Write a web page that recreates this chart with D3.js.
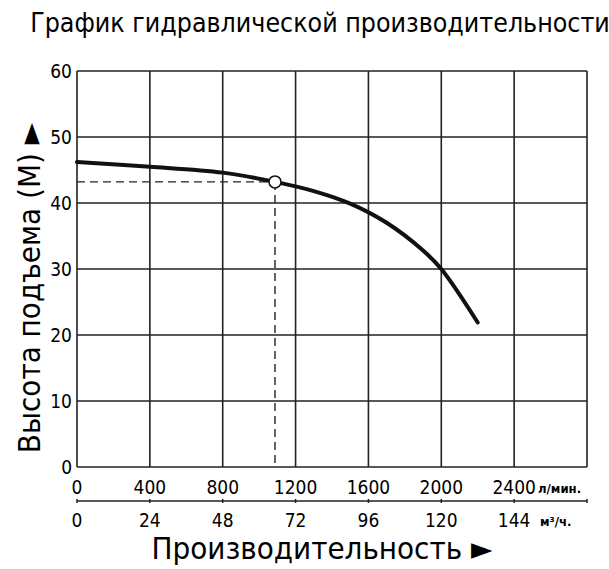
<!DOCTYPE html>
<html><head><meta charset="utf-8">
<script src="https://cdn.jsdelivr.net/npm/d3@7"></script>
<style>body{margin:0;background:#fff}text{font-family:"DejaVu Sans Condensed","Liberation Sans Narrow",sans-serif}</style>
</head><body>
<script>
const flowLpm = [0, 400, 800, 1087, 1300, 1500, 1700, 1900, 2000, 2200];
const headM   = [46.2, 45.5, 44.6, 43.2, 41.8, 39.9, 37.0, 32.8, 30.0, 21.9];
const opPoint = {q: 1087, h: 43.2};
const lpmTicks = [0, 400, 800, 1200, 1600, 2000, 2400];
const m3hTicks = [0, 24, 48, 72, 96, 120, 144];
const yTicks = [0, 10, 20, 30, 40, 50, 60];

const W = 609, H = 569, L = 77, R = 587, T = 71, B = 467;
const svg = d3.select("body").append("svg").attr("width", W).attr("height", H);
const x = d3.scaleLinear().domain([0, 2800]).range([L, R]);
const x2 = d3.scaleLinear().domain([0, 168]).range([L, R]);
const y = d3.scaleLinear().domain([0, 60]).range([B, T]);

const g = svg.append("g");
g.selectAll(".v").data(d3.range(0, 2801, 400)).join("line")
  .attr("x1", d => x(d)).attr("x2", d => x(d)).attr("y1", T).attr("y2", B)
  .attr("stroke", "#222").attr("stroke-width", 1.6);
g.selectAll(".h").data(yTicks).join("line")
  .attr("x1", L).attr("x2", R).attr("y1", d => y(d)).attr("y2", d => y(d))
  .attr("stroke", "#222").attr("stroke-width", 1.6);

g.selectAll(".yl").data(yTicks).join("text")
  .attr("x", L - 5).attr("y", d => y(d) + 7).attr("text-anchor", "end")
  .attr("font-size", 19).text(d => d);

g.selectAll(".xl").data(lpmTicks).join("text")
  .attr("x", d => x(d)).attr("y", 494).attr("text-anchor", "middle")
  .attr("font-size", 19).text(d => d);
svg.append("text").attr("x", 538).attr("y", 493).attr("font-size", 13).attr("font-weight", "bold")
  .attr("font-family", "Liberation Sans, sans-serif").text("л/мин.");

svg.append("line").attr("x1", L).attr("x2", R).attr("y1", 501).attr("y2", 501).attr("stroke", "#222").attr("stroke-width", 1.5);
svg.selectAll(".t2").data(m3hTicks.concat([168])).join("line")
  .attr("x1", d => x2(d)).attr("x2", d => x2(d)).attr("y1", 499).attr("y2", 503).attr("stroke", "#222").attr("stroke-width", 1.5);
svg.selectAll(".xl2").data(m3hTicks).join("text")
  .attr("x", d => x2(d)).attr("y", 527).attr("text-anchor", "middle")
  .attr("font-size", 19).text(d => d);
svg.append("text").attr("x", 540).attr("y", 526).attr("font-size", 13).attr("font-weight", "bold")
  .attr("font-family", "Liberation Sans, sans-serif").text("м³/ч.");

g.append("line").attr("x1", L).attr("x2", x(opPoint.q)).attr("y1", y(opPoint.h)).attr("y2", y(opPoint.h))
  .attr("stroke", "#222").attr("stroke-width", 1.4).attr("stroke-dasharray", "8,5");
g.append("line").attr("x1", x(opPoint.q)).attr("x2", x(opPoint.q)).attr("y1", y(opPoint.h)).attr("y2", B)
  .attr("stroke", "#222").attr("stroke-width", 1.4).attr("stroke-dasharray", "8,5");

const data = flowLpm.map((q, i) => [q, headM[i]]);
g.append("path").datum(data)
  .attr("d", d3.line().x(d => x(d[0])).y(d => y(d[1])).curve(d3.curveCatmullRom))
  .attr("fill", "none").attr("stroke", "#111").attr("stroke-width", 4).attr("stroke-linecap", "round");
g.append("circle").attr("cx", x(opPoint.q)).attr("cy", y(opPoint.h)).attr("r", 6)
  .attr("fill", "#fff").attr("stroke", "#111").attr("stroke-width", 1.5);

svg.append("text").attr("x", 320).attr("y", 32).attr("text-anchor", "middle").attr("font-size", 26.5)
  .text("График гидравлической производительности");
svg.append("text").attr("x", 322).attr("y", 559).attr("text-anchor", "middle").attr("font-size", 31)
  .attr("font-family", "Liberation Sans, sans-serif").text("Производительность ►");
svg.append("text").attr("transform", "translate(40,288) rotate(-90)").attr("text-anchor", "middle")
  .attr("font-size", 31).attr("font-family", "Liberation Sans, sans-serif").text("Высота подъема (М) ►");
</script>
</body></html>
